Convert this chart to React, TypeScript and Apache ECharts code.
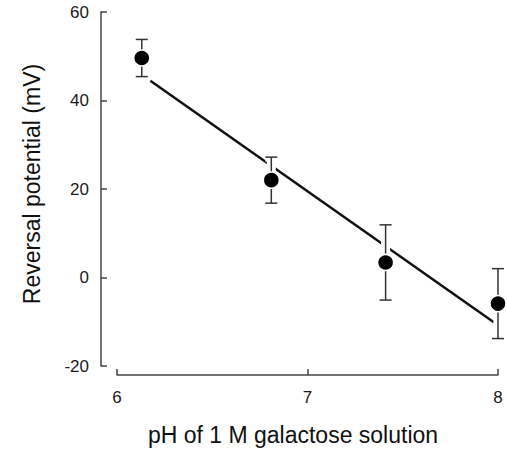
import React, { useEffect, useRef } from "react";
import * as echarts from "echarts";

// Data
const phValues = [6.13, 6.81, 7.41, 8.0];
const potentials = [49.6, 22.0, 3.4, -5.9];
const errors = [4.2, 5.2, 8.5, 7.9];
const fitLine = [
  [6.175, 44.45],
  [7.978, -10.1],
];
const xTicks = [6, 7, 8];
const yTicks = [-20, 0, 20, 40, 60];

const FONT = "'Liberation Sans', Arial, Helvetica, sans-serif";

export default function App() {
  const ref = useRef<HTMLDivElement>(null);

  useEffect(() => {
    if (!ref.current) return;
    const chart = echarts.init(ref.current, undefined, { renderer: "svg" });

    const pointData = phValues.map((x, i) => [x, potentials[i]]);
    const errData = phValues.map((x, i) => [x, potentials[i], errors[i]]);

    chart.setOption({
      animation: false,
      backgroundColor: "#ffffff",
      grid: { left: 117, right: 9, top: 12, bottom: 83, containLabel: false },
      xAxis: {
        type: "value",
        min: xTicks[0],
        max: xTicks[xTicks.length - 1],
        interval: 1,
        offset: 9,
        name: "pH of 1 M galactose solution",
        nameLocation: "middle",
        nameGap: 48,
        nameTextStyle: {
          fontFamily: FONT,
          fontSize: 23,
          color: "#111",
          padding: [0, 29, 0, 0],
        },
        axisLine: { show: true, onZero: false, lineStyle: { color: "#444", width: 1.5 } },
        axisTick: { show: true, inside: true, length: 6, lineStyle: { color: "#444", width: 1.5 } },
        axisLabel: { fontFamily: FONT, fontSize: 17, color: "#1a1a1a", margin: 14 },
        splitLine: { show: false },
      },
      yAxis: {
        type: "value",
        min: yTicks[0],
        max: yTicks[yTicks.length - 1],
        interval: 20,
        offset: 16,
        name: "Reversal potential (mV)",
        nameLocation: "middle",
        nameGap: 58,
        nameTextStyle: {
          fontFamily: FONT,
          fontSize: 23,
          color: "#111",
          padding: [0, 0, 0, 10],
        },
        axisLine: { show: true, onZero: false, lineStyle: { color: "#444", width: 1.5 } },
        axisTick: { show: true, inside: true, length: 6, lineStyle: { color: "#444", width: 1.5 } },
        axisLabel: { fontFamily: FONT, fontSize: 17, color: "#1a1a1a", margin: 12 },
        splitLine: { show: false },
      },
      series: [
        {
          type: "line",
          data: fitLine,
          symbol: "none",
          lineStyle: { color: "#111", width: 2.5 },
          z: 1,
        },
        {
          type: "custom",
          data: errData,
          z: 2,
          renderItem: (params: any, api: any) => {
            const x = api.value(0);
            const y = api.value(1);
            const e = api.value(2);
            const top = api.coord([x, y + e]);
            const bot = api.coord([x, y - e]);
            const cap = 6;
            const mk = (stroke: string, w: number) => [
              { type: "line", shape: { x1: top[0], y1: top[1], x2: bot[0], y2: bot[1] }, style: { stroke, lineWidth: w } },
              { type: "line", shape: { x1: top[0] - cap, y1: top[1], x2: top[0] + cap, y2: top[1] }, style: { stroke, lineWidth: w } },
              { type: "line", shape: { x1: bot[0] - cap, y1: bot[1], x2: bot[0] + cap, y2: bot[1] }, style: { stroke, lineWidth: w } },
            ];
            return {
              type: "group",
              children: [...mk("#ffffff", 9), ...mk("#333333", 1.5)],
            };
          },
        },
        {
          type: "scatter",
          data: pointData,
          symbol: "circle",
          symbolSize: 16,
          itemStyle: { color: "#000", borderColor: "#fff", borderWidth: 1.5, opacity: 1 },
          z: 3,
        },
      ],
    });

    return () => chart.dispose();
  }, []);

  return (
    <div
      ref={ref}
      style={{ position: "fixed", left: 0, top: 0, width: 507, height: 451, background: "#fff" }}
    />
  );
}
